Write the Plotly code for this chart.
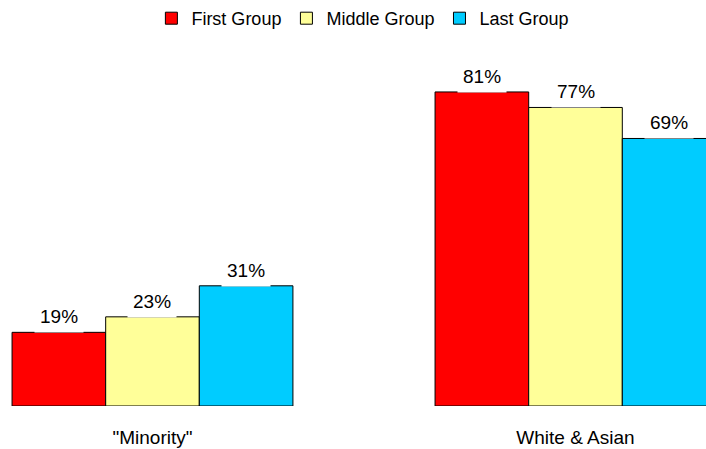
import plotly.graph_objects as go

# Share of each group, by category
categories = ['"Minority"', "White & Asian"]
series_names = ["First Group", "Middle Group", "Last Group"]
first_group = [19, 81]
middle_group = [23, 77]
last_group = [31, 69]
series_values = [first_group, middle_group, last_group]
colors = ["#ff0000", "#ffff99", "#00ccff"]

FONT = "Liberation Sans, Arial, Helvetica, sans-serif"
BARGAP = 0.336

fig = go.Figure()
for name, vals, col in zip(series_names, series_values, colors):
    fig.add_trace(go.Bar(
        name=name, x=categories, y=vals,
        marker=dict(color=col, line=dict(color="#000000", width=1)),
    ))

# Value labels with white boxes sitting on the bar tops
n = len(series_values)
bar_w = (1 - BARGAP) / n
for i, vals in enumerate(series_values):
    for j, v in enumerate(vals):
        fig.add_annotation(
            x=j + (i - (n - 1) / 2) * bar_w, y=v, xref="x", yref="y",
            text=f"{v}%", showarrow=False, yanchor="bottom",
            bgcolor="white", borderpad=5, yshift=-1,
            font=dict(family=FONT, size=19, color="#000000"),
        )

fig.update_layout(
    width=706, height=449,
    margin=dict(l=0, r=0, t=40, b=43),
    paper_bgcolor="white", plot_bgcolor="white",
    barmode="group", bargap=BARGAP, bargroupgap=0,
    font=dict(family=FONT, size=19, color="#000000"),
    legend=dict(
        orientation="h", x=0.514, xanchor="center",
        yref="container", y=1.0, yanchor="top",
        font=dict(family=FONT, size=18), itemwidth=30,
    ),
    xaxis=dict(
        type="category", range=[-0.3605, 1.3085],
        showline=False, showgrid=False, zeroline=False,
        ticks="", ticklabelstandoff=18,
        tickfont=dict(family=FONT, size=19),
    ),
    yaxis=dict(
        range=[0, 94.4], visible=False, showgrid=False, zeroline=False,
    ),
)

fig.write_html("out.html")
